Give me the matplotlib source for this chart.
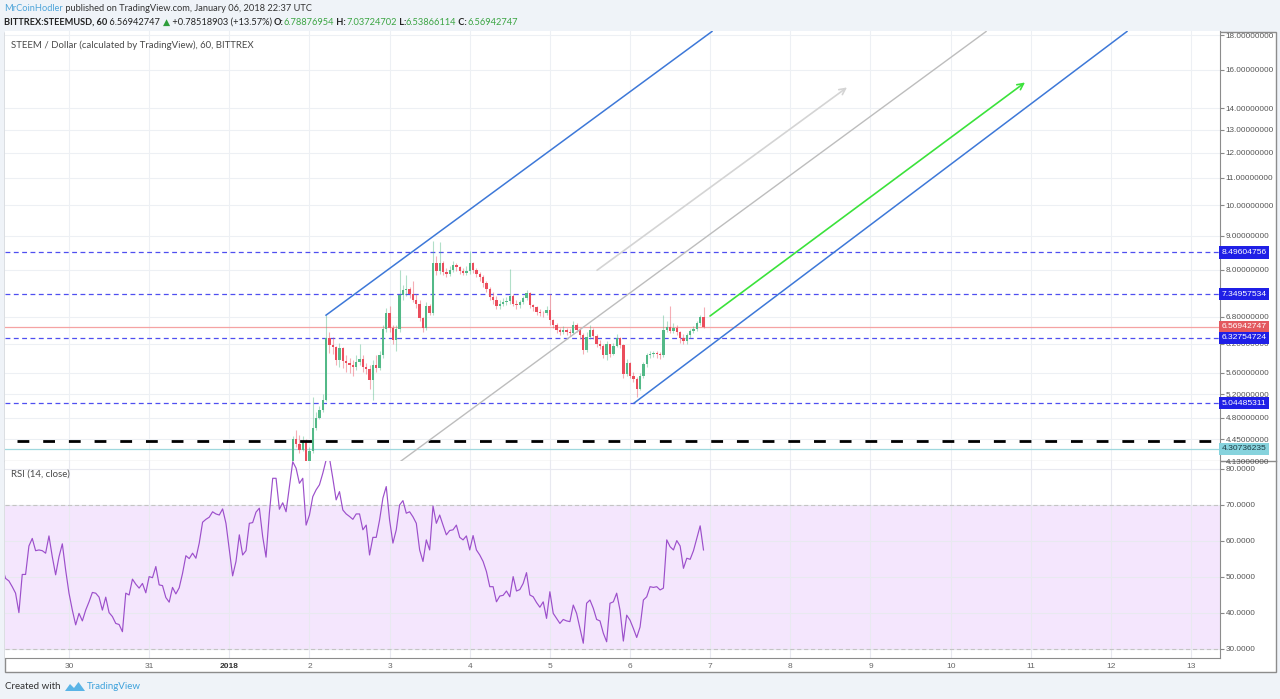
import matplotlib
matplotlib.use('Agg')
import matplotlib.pyplot as plt
import matplotlib.transforms as mtransforms
from matplotlib.patches import Rectangle, Polygon
from matplotlib.ticker import FixedLocator, NullLocator, FuncFormatter
import numpy as np

W, H = 1280, 699

# ---------------- data ----------------
# hourly candles Jan 1 18:00 .. Jan 6 22:00 UTC, x in days counted from Dec 30 00:00
first_candle_day = 2.75
first_open = 3.98
close = [4.05, 4.46, 4.38, 4.29, 4.41, 4.12, 4.28, 4.63, 4.80, 4.92,
         5.10, 6.33, 6.17, 6.12, 5.86, 6.10, 5.83, 5.80, 5.76, 5.71,
         5.82, 5.88, 5.72, 5.68, 5.46, 5.76, 5.70, 5.96, 6.52, 6.90,
         6.55, 6.28, 6.52, 7.33, 7.46, 7.48, 7.35, 7.22, 7.10, 6.78,
         6.55, 7.05, 6.90, 8.20, 7.98, 8.20, 7.95, 7.88, 8.00, 8.15,
         8.08, 7.98, 7.92, 7.98, 8.20, 8.00, 7.88, 7.80, 7.65, 7.50,
         7.28, 7.22, 7.05, 7.12, 7.15, 7.18, 7.30, 7.12, 7.08, 7.15,
         7.25, 7.38, 7.08, 7.03, 6.92, 6.90, 6.88, 6.96, 6.72, 6.62,
         6.50, 6.45, 6.50, 6.46, 6.44, 6.62, 6.50, 6.38, 6.06, 6.35,
         6.50, 6.36, 6.20, 6.15, 5.96, 6.18, 5.98, 6.15, 6.33, 6.17,
         5.58, 5.80, 5.55, 5.48, 5.30, 5.55, 5.78, 5.95, 5.98, 6.00,
         5.97, 5.95, 6.50, 6.56, 6.48, 6.55, 6.46, 6.33, 6.25, 6.38,
         6.48, 6.52, 6.65, 6.78876954, 6.56942747]
high = [4.10, 4.50, 4.60, 4.52, 4.50, 4.46, 4.33, 5.15, 4.90, 5.00,
        5.20, 6.84, 6.45, 6.35, 6.15, 6.22, 6.12, 5.95, 5.90, 5.85,
        5.95, 6.20, 5.95, 5.80, 5.75, 5.85, 5.95, 6.05, 6.60, 7.00,
        7.05, 6.60, 6.60, 8.00, 7.60, 7.85, 7.55, 7.70, 7.35, 7.20,
        6.80, 7.15, 7.10, 8.85, 8.40, 8.80, 8.25, 8.05, 8.10, 8.25,
        8.20, 8.10, 8.05, 8.10, 8.55, 8.22, 8.05, 7.95, 7.85, 7.70,
        7.55, 7.40, 7.30, 7.20, 7.25, 7.28, 8.02, 7.35, 7.20, 7.22,
        7.32, 7.45, 7.40, 7.12, 7.05, 6.98, 6.95, 7.05, 7.35, 6.75,
        6.65, 6.55, 6.58, 6.55, 6.52, 6.70, 6.65, 6.55, 6.42, 6.45,
        6.62, 6.55, 6.40, 6.28, 6.18, 6.25, 6.20, 6.22, 6.40, 6.35,
        6.20, 5.88, 5.82, 5.62, 5.52, 5.60, 5.82, 6.00, 6.05, 6.05,
        6.05, 6.02, 6.84, 6.70, 7.05, 6.65, 6.60, 6.48, 6.40, 6.42,
        6.52, 6.58, 6.70, 6.85, 7.03724702]
low = [3.95, 4.00, 4.33, 4.25, 4.27, 4.05, 4.08, 4.25, 4.60, 4.78,
       4.90, 5.08, 6.00, 5.98, 5.75, 5.72, 5.70, 5.62, 5.60, 5.55,
       5.65, 5.75, 5.62, 5.58, 5.30, 5.10, 5.62, 5.65, 5.90, 6.45,
       6.45, 6.20, 6.04, 6.45, 7.20, 7.30, 7.25, 7.15, 7.00, 6.70,
       6.45, 6.50, 6.85, 6.85, 7.85, 7.90, 7.85, 7.80, 7.82, 7.95,
       7.98, 7.90, 7.85, 7.85, 7.90, 7.92, 7.80, 7.70, 7.55, 7.40,
       7.20, 7.10, 6.98, 6.98, 7.05, 7.08, 7.10, 7.05, 6.98, 7.02,
       7.10, 7.20, 7.00, 6.95, 6.85, 6.82, 6.80, 6.85, 6.62, 6.55,
       6.42, 6.38, 6.40, 6.38, 6.36, 6.40, 6.45, 6.30, 5.98, 6.02,
       6.30, 6.30, 6.12, 6.08, 5.90, 5.85, 5.92, 5.95, 6.12, 6.10,
       5.50, 5.55, 5.50, 5.42, 5.15, 5.28, 5.50, 5.72, 5.90, 5.92,
       5.90, 5.88, 5.92, 6.45, 6.42, 6.42, 6.38, 6.22, 6.18, 6.20,
       6.32, 6.42, 6.48, 6.60, 6.53866114]

# RSI(14) hourly, ending on the last candle
rsi = [52.4, 52.7, 49.6, 48.9, 47.3, 45.5, 40.1, 50.7, 50.7, 58.6,
       60.7, 57.3, 57.5, 57.3, 56.6, 61.4, 55.6, 50.6, 55.6, 59.2,
       51.9, 45.5, 40.8, 36.7, 39.9, 37.8, 40.8, 43.1, 45.7, 45.5,
       44.4, 40.8, 44.4, 40.1, 39.0, 37.1, 36.8, 34.8, 45.5, 45.0,
       49.4, 48.0, 46.9, 48.2, 45.6, 50.1, 49.8, 52.9, 47.8, 47.6,
       44.3, 43.0, 47.1, 45.3, 47.0, 51.0, 55.9, 55.1, 56.6, 55.2,
       59.4, 65.2, 66.0, 66.6, 68.1, 67.5, 67.2, 68.9, 64.9, 57.5,
       50.3, 54.3, 61.7, 56.1, 57.3, 64.9, 65.1, 68.0, 69.1, 61.2,
       55.5, 67.7, 77.4, 77.4, 68.8, 70.6, 68.1, 75.1, 82.0, 80.2,
       76.0, 77.4, 64.4, 67.2, 72.3, 74.2, 75.6, 78.8, 82.5, 83.0,
       77.4, 71.4, 73.7, 68.6, 67.5, 66.8, 66.0, 67.5, 67.5, 63.1,
       64.4, 56.1, 61.0, 61.0, 65.8, 71.9, 75.1, 65.8, 59.4, 63.1,
       70.0, 71.2, 67.7, 68.1, 66.7, 64.9, 57.5, 54.3, 60.3, 57.5,
       69.7, 64.9, 67.2, 64.4, 61.7, 62.9, 63.1, 64.4, 61.0, 60.3,
       61.4, 57.5, 61.5, 57.5, 56.1, 54.3, 51.5, 47.3, 47.3, 43.1,
       44.7,
       44.9, 46.1, 44.5, 50.1, 46.1, 46.5, 48.2, 51.2, 45.0, 44.5,
       42.9, 41.6, 43.1, 38.5, 45.9, 39.9, 38.5, 37.1, 38.2, 37.8,
       37.6, 42.2, 39.9, 35.7, 31.6, 42.7, 43.6, 41.3, 38.2, 37.8,
       34.4, 32.0, 42.7, 43.1, 45.5, 40.8, 32.2, 39.4, 38.0, 35.7,
       33.2, 36.1, 43.6, 44.5, 47.3, 47.1, 47.3, 46.4, 46.9, 60.3,
       58.4, 57.5, 60.1, 58.6, 52.4, 55.2, 54.9, 57.3, 60.7, 64.2,
       57.5]

price_ticks = [18, 16, 14, 13, 12, 11, 10, 9, 8, 6.8, 6.2, 5.6, 5.2, 4.8, 4.45, 4.13]
rsi_ticks = [30, 40, 50, 60, 70, 80]
day_ticks = list(range(15))
day_labels = ['30', '31', '2018', '2', '3', '4', '5', '6', '7', '8',
              '9', '10', '11', '12', '13']

levels = [8.49604756, 7.34957534, 6.32754724, 5.04485311]
last_price = 6.56942747
support = 4.30736235
black_level = 4.43

# drawings as (day, price) anchor pairs
channel_upper = [(3.207, 6.84), (8.022, 18.25)]
channel_lower = [(7.049, 5.04485311), (13.20, 18.25)]
gray_line = [(4.151, 4.137), (11.429, 18.2)]
gray_arrow = [(6.588, 7.99), (9.707, 15.04)]
green_arrow = [(7.998, 6.82), (11.928, 15.3)]

# ---------------- figure ----------------
plt.rcParams['lines.scale_dashes'] = False
TXT = ['Lato', 'DejaVu Sans']
AX = ['Liberation Sans', 'DejaVu Sans']

fig = plt.figure(figsize=(W / 100, H / 100), dpi=100, facecolor='#eff3f8')


def px_axes(x0, y0, x1, y1):
    return [x0 / W, 1 - y1 / H, (x1 - x0) / W, (y1 - y0) / H]


# background layer in pixel coords
bg = fig.add_axes([0, 0, 1, 1])
bg.set_xlim(0, W)
bg.set_ylim(H, 0)
bg.axis('off')
bg.set_zorder(-1)
bg.add_patch(Rectangle((4.5, 31.5), 1271, 640.5, fc='white', ec='#8c8c8c', lw=1))
bg.plot([1220, 1276], [461, 461], color='#8c8c8c', lw=1)

xlim = (-0.7985, 14.361)

# ---- price pane ----
ax = fig.add_axes(px_axes(5, 31.5, 1220, 461))
ax.set_yscale('log')
ax.set_xlim(*xlim)
ax.set_ylim(4.13, 18.25)
ax.set_axisbelow(True)

c = np.array(close)
h = np.array(high)
l = np.array(low)
o = np.concatenate([[first_open], c[:-1]])
t = first_candle_day + np.arange(len(c)) / 24
cols = np.where(c >= o, '#53b987', '#eb4d5c')
ax.vlines(t, l, h, colors=cols, lw=0.8, alpha=0.45, zorder=3)
lo = np.minimum(o, c)
hi = np.maximum(o, c)
ax.bar(t, np.maximum(hi - lo, lo * 0.002), bottom=lo, width=0.7 / 24,
       color=cols, linewidth=0, zorder=4)

for lv in levels:
    ax.axhline(lv, color='#4f4ff0', lw=0.9, ls=(0, (3.5, 2.5)), zorder=2)
ax.axhline(last_price, color='#f5a3a3', lw=0.9, zorder=2)
ax.axhline(support, color='#9fd8de', lw=0.9, zorder=2)
ax.hlines(black_level, -0.65, 14.3, color='black', lw=2.0, ls=(0, (8.5, 10)), zorder=5)

for seg, col in [(channel_upper, '#3d78d8'), (channel_lower, '#3d78d8')]:
    ax.plot([seg[0][0], seg[1][0]], [seg[0][1], seg[1][1]], color=col, lw=1.1, zorder=5)
ax.axline(gray_line[0], gray_line[1], color='#bdbdbd', lw=1.0, zorder=5)
for seg, col in [(gray_arrow, '#d4d4d4'), (green_arrow, '#3be23b')]:
    ax.annotate('', xy=seg[1], xytext=seg[0],
                arrowprops=dict(arrowstyle='->', color=col, lw=1.2,
                                mutation_scale=11, shrinkA=0, shrinkB=0),
                zorder=6)

ax.yaxis.tick_right()
ax.yaxis.set_major_locator(FixedLocator(price_ticks))
ax.yaxis.set_minor_locator(NullLocator())
ax.yaxis.set_major_formatter(FuncFormatter(lambda v, p: '%.8f' % v))
ax.set_xticks(day_ticks)
ax.set_xticklabels([])
ax.tick_params(axis='x', length=0)
ax.tick_params(axis='y', length=3, width=0.8, color='#888888', pad=1.2,
               labelsize=5.9, labelcolor='#555555')
for lab in ax.get_yticklabels():
    lab.set_fontfamily(AX)
ax.grid(True, color='#edf0f4', lw=0.8)
for s in ['top', 'left']:
    ax.spines[s].set_visible(False)
for s in ['right', 'bottom']:
    ax.spines[s].set_color('#8c8c8c')

trans = mtransforms.blended_transform_factory(ax.transAxes, ax.transData)
boxes = [(levels[0], '#1f1fe6', 'white'), (levels[1], '#1f1fe6', 'white'),
         (last_price, '#e3595f', 'white'), (levels[2], '#1f1fe6', 'white'),
         (levels[3], '#1f1fe6', 'white'), (support, '#86d3dd', '#1d3c44')]
for val, fc, tc in boxes:
    ax.text(1.0012, val, '%.8f' % val, transform=trans, color=tc, fontsize=6.1,
            family=AX, va='center', ha='left', clip_on=False, zorder=10,
            bbox=dict(boxstyle='square,pad=0.3', fc=fc, ec='none'))

ax.text(0.005, 0.967, 'STEEM / Dollar (calculated by TradingView), 60, BITTREX',
        transform=ax.transAxes, fontsize=6.9, family=TXT, color='#4a4a4a', va='center')

# ---- RSI pane ----
rx = fig.add_axes(px_axes(5, 461, 1220, 658))
rt = t[-1] - (len(rsi) - 1 - np.arange(len(rsi))) / 24
rx.set_xlim(*xlim)
rx.set_ylim(27.5, 82.2)
rx.set_axisbelow(True)
rx.axhspan(30, 70, color='#f4e6fd', zorder=0, lw=0)
rx.axhline(70, color='#c4c4c4', lw=0.8, ls=(0, (3, 2)), zorder=1)
rx.axhline(30, color='#c4c4c4', lw=0.8, ls=(0, (3, 2)), zorder=1)
rx.plot(rt, rsi, color='#9c4fcb', lw=0.85, zorder=3)

rx.yaxis.tick_right()
rx.set_yticks(rsi_ticks)
rx.yaxis.set_major_formatter(FuncFormatter(lambda v, p: '%.4f' % v))
rx.set_xticks(day_ticks)
rx.set_xticklabels(day_labels)
rx.tick_params(axis='y', length=3, width=0.8, color='#888888', pad=1.2,
               labelsize=5.9, labelcolor='#555555')
rx.tick_params(axis='x', length=0, pad=3.5, labelsize=6, labelcolor='#666666')
for lab in rx.get_yticklabels() + rx.get_xticklabels():
    lab.set_fontfamily(AX)
rx.get_xticklabels()[2].set_fontweight('bold')
rx.get_xticklabels()[2].set_color('#333333')
rx.grid(True, color='#e8e9f0', lw=0.8)
for s in ['top', 'left']:
    rx.spines[s].set_visible(False)
for s in ['right', 'bottom']:
    rx.spines[s].set_color('#8c8c8c')
rx.text(0.005, 0.935, 'RSI (14, close)', transform=rx.transAxes, fontsize=6.9,
        family=TXT, color='#4a4a4a', va='center')


# ---- header / footer text ----
def chain(x, y, parts, size):
    prev = None
    for s, col, wt in parts:
        if prev is None:
            prev = bg.text(x, y, s, color=col, fontweight=wt, fontsize=size,
                           family=TXT, va='baseline', ha='left')
        else:
            prev = bg.annotate(s, xy=(1, 0), xycoords=prev, va='bottom', ha='left',
                               color=col, fontweight=wt, fontsize=size, family=TXT)


dark = '#222222'
grn = '#3ca544'
chain(4, 11, [('MrCoinHodler', '#4ea4d9', 'normal'),
              (' published on TradingView.com, January 06, 2018 22:37 UTC', '#333333', 'normal')], 6.65)
chain(4, 25, [('BITTREX:STEEMUSD, 60', dark, 'bold'),
              (' 6.56942747 ', dark, 'normal'),
              ('\u25b2', '#2f9e3c', 'normal'),
              (' +0.78518903 (+13.57%) ', dark, 'normal'),
              ('O:', dark, 'bold'), ('6.78876954', grn, 'normal'),
              (' H:', dark, 'bold'), ('7.03724702', grn, 'normal'),
              (' L:', dark, 'bold'), ('6.53866114', grn, 'normal'),
              (' C:', dark, 'bold'), ('6.56942747', grn, 'normal')], 6.65)

bg.text(5, 689, 'Created with', fontsize=7, family=TXT, color='#333333', va='baseline')
bg.add_patch(Polygon([(65, 691), (70, 684), (74, 688), (78.5, 682), (85, 691)],
                     closed=True, fc='#5ab4e6', ec='none'))
bg.text(87, 689, 'TradingView', fontsize=7, family=TXT, color='#3ea2dc', va='baseline')

fig.savefig('out.png', dpi=100, facecolor=fig.get_facecolor())
